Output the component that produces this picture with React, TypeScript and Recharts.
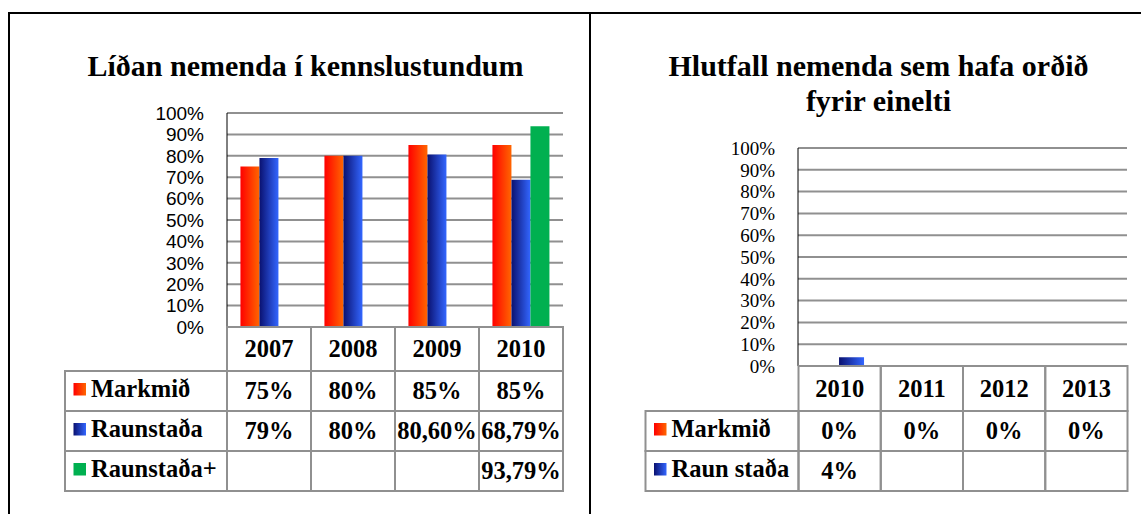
import { BarChart, Bar, XAxis, YAxis, CartesianGrid } from "recharts";

const SERIF = '"Liberation Serif", "Times New Roman", serif';
const SANS = '"Liberation Sans", Arial, sans-serif';

// Líðan nemenda í kennslustundum
const leftYears = ["2007", "2008", "2009", "2010"];
const leftMarkmid = [75, 80, 85, 85];
const leftRaun = [79, 80, 80.6, 68.79];
const leftRaunPlus: (number | null)[] = [null, null, null, 93.79];

// Hlutfall nemenda sem hafa orðið fyrir einelti
const rightYears = ["2010", "2011", "2012", "2013"];
const rightMarkmid = [0, 0, 0, 0];
const rightRaun: (number | null)[] = [4, null, null, null];

const yTicks = [0, 10, 20, 30, 40, 50, 60, 70, 80, 90, 100];

const leftData = leftYears.map((year, i) => ({
  year,
  markmid: leftMarkmid[i],
  raun: leftRaun[i],
  raunPlus: leftRaunPlus[i],
}));

const rightData = rightYears.map((year, i) => ({
  year,
  markmid: rightMarkmid[i],
  raun: rightRaun[i],
}));

const GRID = "#909090";
const RED = "url(#gradRed)";
const BLUE = "url(#gradBlue)";
const GREEN = "#00b050";

const fmt = (v: number | null) => {
  if (v === null) return "";
  return Number.isInteger(v) ? `${v}%` : `${v.toFixed(2).replace(".", ",")}%`;
};

function Gradients() {
  return (
    <defs>
      <linearGradient id="gradRed" x1="0" y1="0" x2="1" y2="0">
        <stop offset="0%" stopColor="#ff0000" />
        <stop offset="100%" stopColor="#ff6600" />
      </linearGradient>
      <linearGradient id="gradBlue" x1="0" y1="0" x2="1" y2="0">
        <stop offset="0%" stopColor="#0a1170" />
        <stop offset="100%" stopColor="#3366ff" />
      </linearGradient>
    </defs>
  );
}

// y tick drawn by hand so the font family sticks
const pctTick = (family: string) => (p: any) => (
  <text x={p.x} y={p.y} dy="0.355em" textAnchor="end" fill="#000" fontSize={19} fontFamily={family}>
    {`${p.payload.value}%`}
  </text>
);

type Row = { name: string; values: (number | null)[]; fill: string };

function DataTable({
  x0,
  colW,
  legendX,
  top,
  headerH,
  rowH,
  years,
  rows,
}: {
  x0: number;
  colW: number;
  legendX: number;
  top: number;
  headerH: number;
  rowH: number;
  years: string[];
  rows: Row[];
}) {
  const cell = { fill: "none", stroke: GRID, strokeWidth: 2 };
  const txt = { fontFamily: SERIF, fontWeight: 700, fontSize: 24.5, fill: "#000" };
  return (
    <g>
      {years.map((y, i) => (
        <g key={y}>
          <rect x={x0 + i * colW} y={top} width={colW} height={headerH} {...cell} />
          <text x={x0 + (i + 0.5) * colW} y={top + headerH / 2 + 8} textAnchor="middle" {...txt}>
            {y}
          </text>
        </g>
      ))}
      {rows.map((r, ri) => {
        const ry = top + headerH + ri * rowH;
        const cy = ry + rowH / 2;
        return (
          <g key={r.name}>
            <rect x={legendX} y={ry} width={x0 - legendX} height={rowH} {...cell} />
            <rect x={legendX + 8.5} y={cy - 8} width={12.5} height={12.5} fill={r.fill} />
            <text x={legendX + 26} y={cy + 6} {...txt}>
              {r.name}
            </text>
            {r.values.map((v, i) => (
              <g key={i}>
                <rect x={x0 + i * colW} y={ry} width={colW} height={rowH} {...cell} />
                <text x={x0 + (i + 0.5) * colW} y={cy + 8} textAnchor="middle" {...txt}>
                  {fmt(v)}
                </text>
              </g>
            ))}
          </g>
        );
      })}
    </g>
  );
}

export default function App() {
  return (
    <div style={{ position: "absolute", left: 0, top: 0, width: 1141, height: 514, background: "#fff", overflow: "hidden" }}>
      <div style={{ position: "absolute", left: 0, top: 0 }}>
        <BarChart
          width={590}
          height={340}
          data={leftData}
          margin={{ top: 113, right: 27, bottom: 13, left: 167 }}
          barGap={0}
          barCategoryGap="16%"
        >
          <Gradients />
          <CartesianGrid vertical={false} stroke={GRID} strokeWidth={2} />
          <XAxis dataKey="year" hide />
          <YAxis
            domain={[0, 100]}
            ticks={yTicks}
            interval={0}
            tickLine={false}
            tickMargin={17}
            axisLine={{ stroke: "#000", strokeWidth: 1 }}
            tick={pctTick(SANS)}
            width={60}
          />
          <Bar dataKey="markmid" name="Markmið" fill={RED} isAnimationActive={false} />
          <Bar dataKey="raun" name="Raunstaða" fill={BLUE} isAnimationActive={false} />
          <Bar dataKey="raunPlus" name="Raunstaða+" fill={GREEN} isAnimationActive={false} />
        </BarChart>
      </div>

      <div style={{ position: "absolute", left: 590, top: 0 }}>
        <BarChart
          width={551}
          height={380}
          data={rightData}
          margin={{ top: 148, right: 14, bottom: 14, left: 148 }}
          barGap={0}
          barCategoryGap="19.5%"
        >
          <Gradients />
          <CartesianGrid vertical={false} stroke={GRID} strokeWidth={2} />
          <XAxis dataKey="year" hide />
          <YAxis
            domain={[0, 100]}
            ticks={yTicks}
            interval={0}
            tickLine={false}
            tickMargin={17}
            axisLine={{ stroke: "#000", strokeWidth: 1 }}
            tick={pctTick(SERIF)}
            width={60}
          />
          <Bar dataKey="markmid" name="Markmið" fill={RED} isAnimationActive={false} />
          <Bar dataKey="raun" name="Raun staða" fill={BLUE} isAnimationActive={false} />
        </BarChart>
      </div>

      <svg width={1141} height={514} style={{ position: "absolute", left: 0, top: 0, pointerEvents: "none" }}>
        <rect x={8} y={12} width={1133} height={2} fill="#000" />
        <rect x={8} y={12} width={2} height={502} fill="#000" />
        <rect x={589} y={12} width={2} height={502} fill="#000" />

        <text x={305.5} y={76} textAnchor="middle" fontFamily={SERIF} fontWeight={700} fontSize={30}>
          Líðan nemenda í kennslustundum
        </text>
        <text x={878.5} y={76} textAnchor="middle" fontFamily={SERIF} fontWeight={700} fontSize={30}>
          Hlutfall nemenda sem hafa orðið
        </text>
        <text x={878.5} y={111} textAnchor="middle" fontFamily={SERIF} fontWeight={700} fontSize={30}>
          fyrir einelti
        </text>

        <DataTable
          x0={227}
          colW={84}
          legendX={65}
          top={327}
          headerH={44}
          rowH={40}
          years={leftYears}
          rows={[
            { name: "Markmið", values: leftMarkmid, fill: RED },
            { name: "Raunstaða", values: leftRaun, fill: BLUE },
            { name: "Raunstaða+", values: leftRaunPlus, fill: GREEN },
          ]}
        />
        <DataTable
          x0={798.5}
          colW={82.25}
          legendX={645.5}
          top={366}
          headerH={45}
          rowH={40}
          years={rightYears}
          rows={[
            { name: "Markmið", values: rightMarkmid, fill: RED },
            { name: "Raun staða", values: rightRaun, fill: BLUE },
          ]}
        />
      </svg>
    </div>
  );
}
